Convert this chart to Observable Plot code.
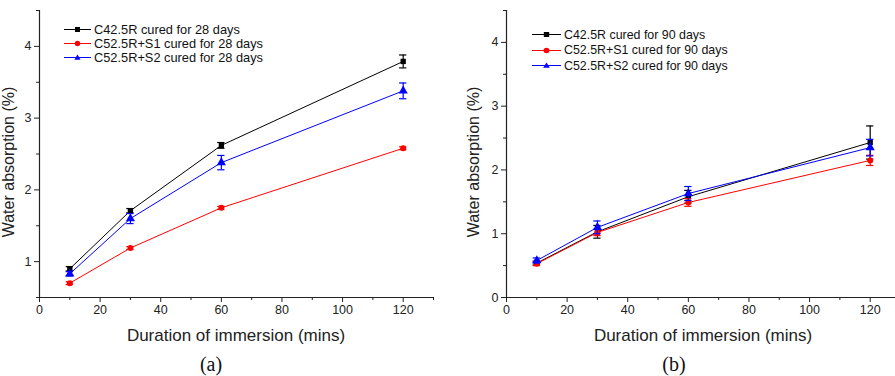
<!DOCTYPE html>
<html>
<head>
<meta charset="utf-8">
<script src="https://cdn.jsdelivr.net/npm/d3@7"></script>
<script src="https://cdn.jsdelivr.net/npm/@observablehq/plot@0.6"></script>
<style>
  body { margin: 0; background: #fff; font-family: "Liberation Sans", Arial, sans-serif; }
  #fig { display: flex; width: 895px; height: 376px; overflow: hidden; }
  .panel { position: relative; height: 376px; }
  .panel svg { display: block; }
  .cap { position: absolute; top: 353px; font-family: "Liberation Serif", "Times New Roman", serif; font-size: 20px; color: #111; transform: translateX(-50%); }
  .ylab { position: absolute; font-size: 16px; color: #222; white-space: nowrap; transform: translate(-50%, -50%) rotate(-90deg); }
  .xlab { position: absolute; top: 326px; font-size: 17px; color: #222; white-space: nowrap; transform: translateX(-50%); }
  .legend { position: absolute; color: #111; }
  .legend .row { display: flex; align-items: center; white-space: nowrap; }
  .legend svg { margin-right: 3px; }
</style>
</head>
<body>
<div id="fig"></div>
<script>
// Immersion durations (mins)
const times = [10, 30, 60, 120];

// (a) specimens cured for 28 days: mean water absorption (%) and error
const c425_28 = [0.90, 1.71, 2.62, 3.79];
const c425_28_err = [0.03, 0.03, 0.04, 0.09];
const s1_28 = [0.70, 1.19, 1.75, 2.58];
const s1_28_err = [0.02, 0.02, 0.02, 0.02];
const s2_28 = [0.83, 1.60, 2.38, 3.38];
const s2_28_err = [0.03, 0.07, 0.10, 0.11];

// (b) specimens cured for 90 days
const c425_90 = [0.54, 1.03, 1.58, 2.43];
const c425_90_err = [0.03, 0.10, 0.10, 0.26];
const s1_90 = [0.53, 1.02, 1.49, 2.15];
const s1_90_err = [0.03, 0.05, 0.06, 0.08];
const s2_90 = [0.58, 1.10, 1.63, 2.35];
const s2_90_err = [0.04, 0.10, 0.11, 0.13];

// Series names
const names28 = ["C42.5R cured for 28 days", "C52.5R+S1 cured for 28 days", "C52.5R+S2 cured for 28 days"];
const names90 = ["C42.5R cured for 90 days", "C52.5R+S1 cured for 90 days", "C52.5R+S2 cured for 90 days"];

// Axis ticks and titles
const xMajor = [0, 20, 40, 60, 80, 100, 120];
const xMinor = [10, 30, 50, 70, 90, 110, 130];
const yMajorA = [1, 2, 3, 4];
const yMinorA = [0.5, 1.5, 2.5, 3.5, 4.5];
const yMajorB = [0, 1, 2, 3, 4];
const yMinorB = [0.5, 1.5, 2.5, 3.5, 4.5];
const xTitle = "Duration of immersion (mins)";
const yTitle = "Water absorption (%)";

const colors = ["#000000", "#ff0000", "#0000ff"];
const symbols = ["square", "circle", "triangle"];

function series(names, values, errs) {
  return names.map((name, i) => ({
    name, color: colors[i], symbol: symbols[i],
    rows: times.map((t, j) => ({t, v: values[i][j], e: errs[i][j]}))
  }));
}

const capHalf = 1.2; // half-width of error-bar caps, in minutes

function drawPanel(opts) {
  const {width, marginLeft, marginRight, yDomain, yMajor, yMinor, data} = opts;
  const marks = [
    Plot.ruleY([yDomain[0]], {stroke: "#222", strokeWidth: 1.2}),
    Plot.ruleX([0], {stroke: "#222", strokeWidth: 1.2}),
    Plot.axisX({ticks: xMajor, tickSize: 5, tickPadding: 3, fontSize: 12.5, label: null, tickFormat: d3.format("d"), stroke: "#222", fill: "#222"}),
    Plot.axisX({ticks: xMinor, tickSize: 3, tickFormat: () => "", label: null, stroke: "#222"}),
    Plot.axisY({ticks: yMajor, tickSize: 5, tickPadding: 3, fontSize: 12.5, label: null, tickFormat: d3.format("d"), stroke: "#222", fill: "#222"}),
    Plot.axisY({ticks: yMinor, tickSize: 3, tickFormat: () => "", label: null, stroke: "#222"})
  ];
  for (const s of data) {
    marks.push(
      Plot.line(s.rows, {x: "t", y: "v", stroke: s.color, strokeWidth: 1}),
      Plot.ruleX(s.rows, {x: "t", y1: d => d.v - d.e, y2: d => d.v + d.e, stroke: s.color, strokeWidth: 1.2}),
      Plot.ruleY(s.rows, {y: d => d.v - d.e, x1: d => d.t - capHalf, x2: d => d.t + capHalf, stroke: s.color, strokeWidth: 1.2}),
      Plot.ruleY(s.rows, {y: d => d.v + d.e, x1: d => d.t - capHalf, x2: d => d.t + capHalf, stroke: s.color, strokeWidth: 1.2}),
      Plot.dot(s.rows, {x: "t", y: "v", symbol: () => s.symbol, fill: s.color, stroke: "none", r: s.symbol === "triangle" ? 3.4 : 3})
    );
  }
  return Plot.plot({
    width, height: 345,
    marginLeft, marginRight, marginTop: 10, marginBottom: 48,
    x: {domain: [0, 130]},
    y: {domain: yDomain},
    symbol: {type: "identity"},
    style: {fontFamily: "'Liberation Sans', Arial, sans-serif", overflow: "visible"},
    marks
  });
}

function legendSymbol(sym, color) {
  if (sym === "square") return `<rect x="11" y="3" width="5" height="5" fill="${color}"/>`;
  if (sym === "circle") return `<circle cx="13.5" cy="5.5" r="2.7" fill="${color}"/>`;
  return `<path d="M13.5,2.4 L16.6,7.8 L10.4,7.8 Z" fill="${color}"/>`;
}

function legend(data, left, top, rowH, fontSize, lineW) {
  const div = document.createElement("div");
  div.className = "legend";
  div.style.left = left + "px";
  div.style.top = top + "px";
  div.style.fontSize = fontSize + "px";
  for (const s of data) {
    const row = document.createElement("div");
    row.className = "row";
    row.style.height = rowH + "px";
    row.innerHTML = `<svg width="${lineW}" height="11" viewBox="0 0 27 11" preserveAspectRatio="none"><line x1="0" x2="27" y1="5.5" y2="5.5" stroke="${s.color}" stroke-width="1"/>${legendSymbol(s.symbol, s.color)}</svg><span>${s.name}</span>`;
    div.appendChild(row);
  }
  return div;
}

function addPanel(container, plot, leg, o) {
  const p = document.createElement("div");
  p.className = "panel";
  p.style.width = o.width + "px";
  p.appendChild(plot);
  p.appendChild(leg);
  const yl = document.createElement("div");
  yl.className = "ylab";
  yl.style.left = o.yLabX + "px";
  yl.style.top = "162px";
  yl.textContent = yTitle;
  p.appendChild(yl);
  const xl = document.createElement("div");
  xl.className = "xlab";
  xl.style.left = o.xLabX + "px";
  xl.textContent = xTitle;
  p.appendChild(xl);
  const c = document.createElement("div");
  c.className = "cap";
  c.style.left = o.capX + "px";
  c.textContent = o.cap;
  p.appendChild(c);
  container.appendChild(p);
}

const fig = document.getElementById("fig");

const dataA = series(names28, [c425_28, s1_28, s2_28], [c425_28_err, s1_28_err, s2_28_err]);
const dataB = series(names90, [c425_90, s1_90, s2_90], [c425_90_err, s1_90_err, s2_90_err]);

const plotA = drawPanel({width: 447, marginLeft: 39, marginRight: 14, yDomain: [0.5, 4.5], yMajor: yMajorA, yMinor: yMinorA, data: dataA});
addPanel(fig, plotA, legend(dataA, 64, 22, 14, 12.8, 27), {width: 447, cap: "(a)", capX: 211, yLabX: 9, xLabX: 236});

const plotB = drawPanel({width: 448, marginLeft: 59, marginRight: -5, yDomain: [0, 4.5], yMajor: yMajorB, yMinor: yMinorB, data: dataB});
addPanel(fig, plotB, legend(dataB, 85, 27, 15.5, 12.4, 29), {width: 448, cap: "(b)", capX: 227, yLabX: 27, xLabX: 256});
</script>
</body>
</html>
